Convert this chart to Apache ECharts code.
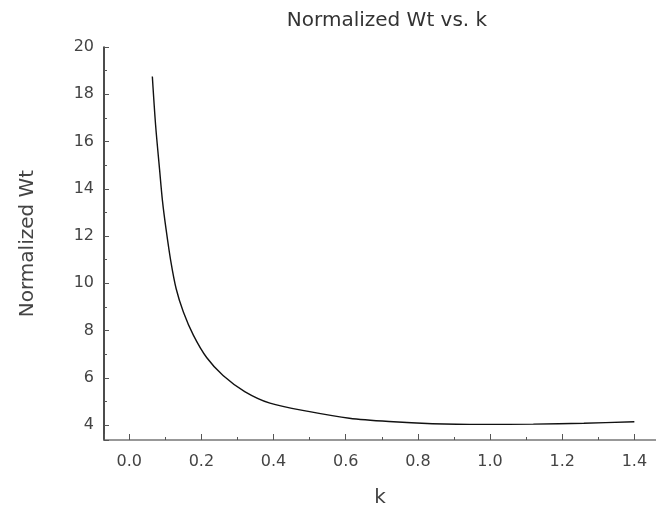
<!DOCTYPE html>
<html>
<head>
<meta charset="utf-8">
<style>
  html, body { margin: 0; padding: 0; background: #fff; }
</style>
</head>
<body>

<!-- chart container, same size as the window -->
<div id="wtChart" style="width:656px; height:513px;"></div>

<script src="https://cdn.jsdelivr.net/npm/echarts@6/dist/echarts.min.js"></script>

<script>
  // values
  var kValues = [0.064, 0.073, 0.084, 0.092, 0.102, 0.115, 0.13, 0.15, 0.178, 0.215, 0.26,
    0.32, 0.39, 0.5, 0.61, 0.72, 0.84, 0.98, 1.12, 1.26, 1.4];
  var wtValues = [18.75, 16.7, 14.82, 13.5, 12.29, 10.95, 9.77, 8.79, 7.8, 6.85, 6.1,
    5.42, 4.93, 4.57, 4.29, 4.15, 4.06, 4.03, 4.04, 4.08, 4.14];

  var titleText = 'Normalized Wt vs. k';
  var xName = 'k';
  var yName = 'Normalized Wt';

  var lineData = kValues.map(function (k, i) {
    return [k, wtValues[i]];
  });

  var textColor = '#444';
  var fontName = 'DejaVu Sans';

  var option = {
    backgroundColor: '#fff',
    animation: false,
    title: {
      text: titleText,
      left: 382,
      textAlign: 'center',
      top: 6,
      textStyle: {
        color: '#333',
        fontFamily: fontName,
        fontWeight: 'normal',
        fontSize: 20
      }
    },
    grid: {
      left: 104,
      top: 47,
      right: 0,
      bottom: 71
    },
    xAxis: {
      type: 'value',
      min: -0.07,
      max: 1.46,
      splitNumber: 7,
      name: xName,
      nameLocation: 'middle',
      nameGap: 48,
      nameTextStyle: {
        color: textColor,
        fontFamily: fontName,
        fontSize: 20
      },
      axisLine: {
        show: true,
        onZero: false,
        lineStyle: { color: '#777', width: 1.5 }
      },
      axisTick: {
        show: true,
        inside: true,
        length: 6,
        lineStyle: { color: '#555' }
      },
      minorTick: {
        show: true,
        splitNumber: 2,
        length: 3,
        lineStyle: { color: '#555' }
      },
      axisLabel: {
        showMinLabel: false,
        showMaxLabel: false,
        color: textColor,
        fontFamily: fontName,
        fontSize: 16,
        margin: 14,
        formatter: function (value) {
          return value.toFixed(1);
        }
      },
      splitLine: { show: false }
    },
    yAxis: {
      type: 'value',
      min: 3.37,
      max: 20,
      splitNumber: 8,
      name: yName,
      nameLocation: 'middle',
      nameGap: 66,
      nameTextStyle: {
        color: textColor,
        fontFamily: fontName,
        fontSize: 20
      },
      axisLine: {
        show: true,
        onZero: false,
        lineStyle: { color: '#111', width: 1.5 }
      },
      axisTick: {
        show: true,
        inside: true,
        length: 5,
        lineStyle: { color: '#555' }
      },
      minorTick: {
        show: true,
        splitNumber: 2,
        length: 3,
        lineStyle: { color: '#555' }
      },
      axisLabel: {
        showMinLabel: false,
        color: textColor,
        fontFamily: fontName,
        fontSize: 16,
        margin: 10
      },
      splitLine: { show: false }
    },
    series: [{
      type: 'line',
      data: lineData,
      smooth: 0.3,
      showSymbol: false,
      lineStyle: {
        color: '#111',
        width: 1.4
      }
    }]
  };

  var chart = echarts.init(document.getElementById('wtChart'));
  chart.setOption(option);
</script>
</body>
</html>
